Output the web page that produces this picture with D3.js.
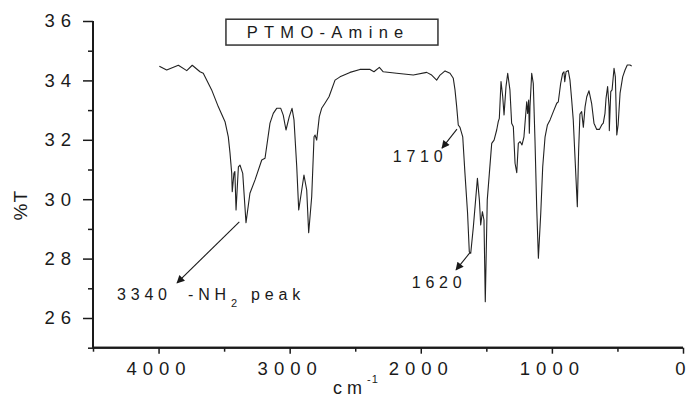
<!DOCTYPE html>
<html>
<head>
<meta charset="utf-8">
<script src="https://cdn.jsdelivr.net/npm/d3@7"></script>
<style>
  html, body { margin: 0; padding: 0; background: #fff; }
  svg { display: block; font-family: "Liberation Sans", Arial, sans-serif; }
</style>
</head>
<body>
<svg id="chart" width="687" height="398"></svg>
<script>
// ---- Data ----
const wavenumbers = [
  3994, 3938, 3849, 3785, 3743, 3684, 3659, 3595, 3544, 3493, 3468, 3455, 3442, 3438,
  3425, 3418, 3409, 3391, 3379, 3358, 3333, 3303, 3264, 3213, 3188, 3150, 3125, 3099,
  3068, 3049, 3028, 3003, 2982, 2967, 2946, 2931, 2908, 2891, 2870, 2855, 2832, 2814,
  2806, 2794, 2774, 2756, 2731, 2700, 2654, 2616, 2540, 2464, 2387, 2357, 2316, 2286,
  2184, 2057, 1955, 1917, 1879, 1853, 1815, 1777, 1752, 1739, 1726, 1714, 1701, 1680,
  1663, 1643, 1630, 1619, 1599, 1568, 1553, 1543, 1530, 1518, 1508, 1493, 1477, 1459,
  1441, 1421, 1409, 1401, 1388, 1375, 1365, 1350, 1337, 1320, 1307, 1294, 1281, 1268,
  1256, 1243, 1228, 1213, 1192, 1185, 1177, 1172, 1167, 1154, 1142, 1129, 1116, 1103,
  1085, 1070, 1052, 1034, 1014, 989, 963, 951, 933, 918, 908, 902, 892, 875, 862, 849,
  837, 824, 806, 796, 786, 773, 760, 747, 734, 717, 697, 679, 658, 638, 620, 608, 595,
  587, 575, 564, 562, 551, 541, 526, 516, 505, 495, 480, 460, 442, 425, 404, 391
];
const transmittance = [
  34.48, 34.35, 34.51, 34.33, 34.51, 34.29, 34.24, 33.68, 33.11, 32.61, 32.10, 31.55, 30.87, 30.25,
  30.87, 30.93, 29.64, 31.09, 31.15, 30.87, 29.21, 30.20, 30.65, 31.32, 31.38, 32.56, 32.89, 33.06,
  33.06, 32.83, 32.33, 32.78, 33.06, 32.67, 31.09, 29.64, 30.31, 30.81, 30.31, 28.87, 30.08, 32.10,
  32.16, 31.99, 32.78, 33.06, 33.23, 33.45, 34.01, 34.12, 34.27, 34.37, 34.37, 34.29, 34.44, 34.29,
  34.24, 34.18, 34.27, 34.18, 34.01, 34.18, 34.32, 34.24, 34.07, 33.68, 33.11, 32.50, 32.42, 32.10,
  30.87, 29.52, 28.23, 28.18, 29.07, 30.70, 29.97, 29.13, 29.58, 29.30, 26.55, 29.97, 30.87, 31.88,
  31.99, 32.33, 32.61, 32.72, 33.96, 33.45, 32.84, 33.79, 34.24, 33.68, 32.56, 32.44, 31.21, 30.89,
  31.88, 31.94, 31.83, 32.10, 33.28, 32.89, 33.34, 32.22, 33.11, 34.24, 33.90, 31.99, 29.75, 28.01,
  29.52, 31.09, 32.10, 32.50, 32.67, 32.95, 33.23, 33.28, 33.90, 34.24, 34.29, 33.96, 34.29, 34.33, 34.01, 33.34,
  32.67, 31.43, 29.75, 31.66, 32.87, 32.95, 32.42, 33.11, 33.45, 33.65, 33.23, 32.56, 32.35, 32.35, 32.50, 32.56, 32.89,
  33.40, 33.79, 33.11, 32.31, 33.62, 33.68, 34.41, 34.12, 32.16, 32.50, 33.57, 34.12, 34.35, 34.52, 34.52, 34.48
];

const xMajorTicks = [4000, 3000, 2000, 1000, 0];
const xMinorTicks = [4500, 3500, 2500, 1500, 500];
const yMajorTicks = [26, 28, 30, 32, 34, 36];
const yMinorTicks = [25, 27, 29, 31, 33, 35];

const titleText = "PTMO-Amine";
const yTitle = "%T";

// annotations: label text, label anchor (data units), arrow from -> to (data units)
const annoLabels = ["3340", "1710", "1620"];
const annoLabelW = [4317, 2214, 2069];
const annoLabelT = [26.6, 31.25, 27.0];
const arrowFromW = [3384, 1724, 1625];
const arrowFromT = [29.24, 32.36, 28.2];
const arrowToW   = [3859, 1838, 1731];
const arrowToT   = [27.18, 31.72, 27.62];

// ---- Layout ----
const svg = d3.select("#chart");
const pL = 93, pR = 683, pT = 21, pB = 347.7;
const x = d3.scaleLinear().domain([4500, 0]).range([pL, pR]);
const y = d3.scaleLinear().domain([25, 36]).range([pB, pT]);
const ink = "#1a1a1a";

// ---- Axes ----
const gx = svg.append("g").attr("transform", `translate(0,${pB})`);
gx.call(d3.axisBottom(x).tickValues(xMajorTicks).tickSize(6).tickFormat(d3.format("d")).tickPadding(8));
const gxm = svg.append("g").attr("transform", `translate(0,${pB})`);
gxm.call(d3.axisBottom(x).tickValues(xMinorTicks).tickSize(4).tickFormat(""));

const gy = svg.append("g").attr("transform", `translate(${pL},0)`);
gy.call(d3.axisLeft(y).tickValues(yMajorTicks).tickSize(10).tickFormat(d3.format("d")).tickPadding(12));
const gym = svg.append("g").attr("transform", `translate(${pL},0)`);
gym.call(d3.axisLeft(y).tickValues(yMinorTicks).tickSize(5).tickFormat(""));

[gx, gxm, gy, gym].forEach(g => {
  g.select(".domain").attr("stroke", ink).attr("stroke-width", 2);
  g.selectAll(".tick line").attr("stroke", ink).attr("stroke-width", 1.5);
  g.selectAll(".tick text")
    .attr("fill", ink)
    .style("font-family", "'Liberation Sans', Arial, sans-serif")
    .style("font-size", "18.5px")
    .style("letter-spacing", "6px");
});
gx.selectAll(".tick text")
  .filter(d => d === 0)
  .style("letter-spacing", "0px")
  .attr("dx", "-3px");
gxm.select(".domain").attr("d", `M${pL},0H${pR}`);
gym.select(".domain").attr("d", `M0,${pT}V${pB}`);
gx.select(".domain").attr("d", `M${pL},0H${pR}`);
gy.select(".domain").attr("d", `M0,${pT}V${pB}`);
gy.selectAll(".tick text").attr("dx", "6px");

// y title
svg.append("text")
  .attr("transform", `translate(27,${(y(30) + y(29.6)) / 2}) rotate(-90)`)
  .attr("text-anchor", "middle")
  .attr("fill", ink)
  .style("font-size", "19px")
  .style("letter-spacing", "1px")
  .text(yTitle);

// x title cm^-1
const xt = svg.append("text")
  .attr("x", x(2669))
  .attr("y", 393.5)
  .attr("fill", ink)
  .style("font-size", "18px")
  .style("letter-spacing", "5px");
xt.append("tspan").text("cm");
xt.append("tspan").attr("dy", -11).style("font-size", "11px").style("letter-spacing", "1px").text("-1");

// ---- Title box ----
const tb = svg.append("g");
tb.append("rect")
  .attr("x", x(3486)).attr("y", y(36.06))
  .attr("width", x(1869) - x(3486)).attr("height", y(35.19) - y(36.06))
  .attr("fill", "none").attr("stroke", "#333").attr("stroke-width", 1.5);
tb.append("text")
  .attr("x", x(3328)).attr("y", y(35.42))
  .attr("fill", ink)
  .style("font-size", "16.5px")
  .style("letter-spacing", "6.3px")
  .text(titleText);

// ---- Spectrum ----
const pts = wavenumbers.map((w, i) => [w, transmittance[i]]);
svg.append("path")
  .datum(pts)
  .attr("fill", "none")
  .attr("stroke", "#222")
  .attr("stroke-width", 1.1)
  .attr("stroke-linejoin", "round")
  .attr("d", d3.line().x(d => x(d[0])).y(d => y(d[1])));

// ---- Annotations ----
svg.append("defs").append("marker")
  .attr("id", "ah")
  .attr("viewBox", "0 0 10 10")
  .attr("refX", 9).attr("refY", 5)
  .attr("markerWidth", 10).attr("markerHeight", 8)
  .attr("markerUnits", "userSpaceOnUse")
  .attr("orient", "auto")
  .append("path").attr("d", "M0,0L10,5L0,10Z").attr("fill", ink);

annoLabels.forEach((lab, i) => {
  svg.append("line")
    .attr("x1", x(arrowFromW[i])).attr("y1", y(arrowFromT[i]))
    .attr("x2", x(arrowToW[i])).attr("y2", y(arrowToT[i]))
    .attr("stroke", ink).attr("stroke-width", 1.1)
    .attr("marker-end", "url(#ah)");
  svg.append("text")
    .attr("x", x(annoLabelW[i])).attr("y", y(annoLabelT[i]))
    .attr("fill", ink)
    .style("font-size", "16px")
    .style("letter-spacing", "4.8px")
    .text(lab);
});

// "-NH2 peak"
const nh = svg.append("text")
  .attr("x", x(3775)).attr("y", y(26.6))
  .attr("fill", ink)
  .style("font-size", "16px")
  .style("letter-spacing", "4.8px");
nh.append("tspan").text("-NH");
nh.append("tspan").attr("dy", 7).style("font-size", "11px").text("2");
nh.append("tspan").attr("dy", -7).text(" peak");
</script>
</body>
</html>
